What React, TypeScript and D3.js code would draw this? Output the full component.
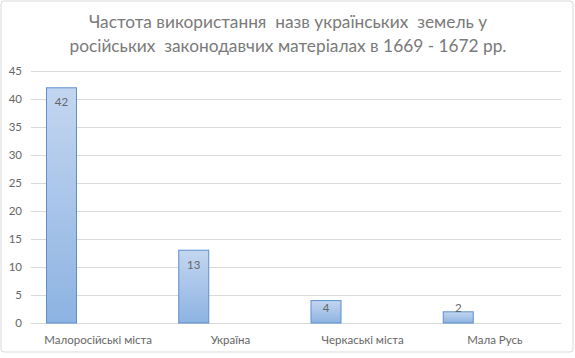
import React from "react";
import * as d3 from "d3";

const categories = ["Малоросійські міста", "Україна", "Черкаські міста", "Мала Русь"];
const values = [42, 13, 4, 2];
const yTicks = [0, 5, 10, 15, 20, 25, 30, 35, 40, 45];
const titleLines = [
  "Частота використання  назв українських  земель у",
  "російських  законодавчих матеріалах в 1669 - 1672 рр.",
];

const W = 575;
const H = 358;
const FONT = "Lato, 'Noto Sans', sans-serif";

export default function App() {
  const x = d3.scaleBand<string>().domain(categories).range([32, 561]).paddingInner(0).paddingOuter(0);
  const y = d3.scaleLinear().domain([0, 45]).range([323, 71]);
  const barOffset = 14;
  const barW = 30;
  const gridColor = "#d9d9d9";
  const textColor = "#666666";

  return (
    <svg width={W} height={H} style={{ position: "absolute", left: 0, top: 0, background: "#fff" }}>
      <defs>
        <linearGradient id="barGrad" x1="0" y1="0" x2="0" y2="1">
          <stop offset="0%" stopColor="#c3d6f0" />
          <stop offset="100%" stopColor="#8db3e2" />
        </linearGradient>
      </defs>
      <rect x={1} y={1} width={572} height={351} rx={3} fill="#fff" stroke={gridColor} strokeWidth={1} />
      {titleLines.map((t, i) => (
        <text
          key={i}
          x={288}
          y={28 + i * 24}
          textAnchor="middle"
          fontFamily={FONT}
          fontSize={17.3}
          fill="#7a7a7a"
          style={{ whiteSpace: "pre" }}
        >
          {t}
        </text>
      ))}
      {yTicks.map((t) => (
        <g key={t}>
          <line x1={31} x2={561} y1={Math.round(y(t)) + 0.5} y2={Math.round(y(t)) + 0.5} stroke={gridColor} strokeWidth={1} />
          <text x={22} y={y(t) + 4} textAnchor="end" fontFamily={FONT} fontSize={11.5} fill={textColor}>
            {t}
          </text>
        </g>
      ))}
      {categories.map((c, i) => {
        const bx = (x(c) as number) + barOffset;
        const top = y(values[i]);
        const labelY = Math.min(top + 14.5, y(0) - 15.5);
        return (
          <g key={c}>
            <rect
              x={bx + 0.5}
              y={top}
              width={barW}
              height={y(0) - top}
              fill="url(#barGrad)"
              stroke="#5b8fcc"
              strokeWidth={1}
            />
            <text x={bx + barW / 2 + 0.5} y={labelY + 4} textAnchor="middle" fontFamily={FONT} fontSize={11.5} fill={textColor}>
              {values[i]}
            </text>
            <text
              x={(x(c) as number) + x.bandwidth() / 2}
              y={344}
              textAnchor="middle"
              fontFamily={FONT}
              fontSize={11.5}
              fill={textColor}
            >
              {c}
            </text>
          </g>
        );
      })}
    </svg>
  );
}
